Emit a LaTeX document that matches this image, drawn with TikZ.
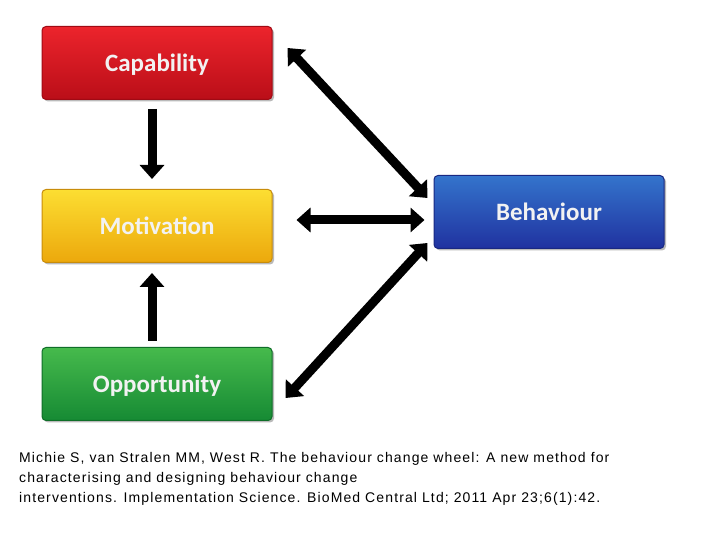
\documentclass[tikz,border=0pt]{standalone}
\usepackage{fontspec}
\setmainfont{Liberation Sans}
\newfontfamily\boxfont{Carlito}
\newfontfamily\citefont[LetterSpace=8]{Liberation Sans}
\usetikzlibrary{arrows.meta,shadows}
\definecolor{redT}{RGB}{236,36,44}
\definecolor{redB}{RGB}{186,14,24}
\definecolor{redE}{RGB}{160,10,20}
\definecolor{yelT}{RGB}{252,222,50}
\definecolor{yelB}{RGB}{236,168,12}
\definecolor{yelE}{RGB}{200,140,10}
\definecolor{grnT}{RGB}{70,186,76}
\definecolor{grnB}{RGB}{22,138,52}
\definecolor{grnE}{RGB}{15,110,40}
\definecolor{bluT}{RGB}{52,116,204}
\definecolor{bluB}{RGB}{32,50,160}
\definecolor{bluE}{RGB}{25,40,130}
\tikzset{
  cbox/.style={rounded corners=4pt, minimum width=230pt, minimum height=73pt,
    inner sep=0pt, text depth=0pt, text=white!95!black, font=\boxfont\bfseries\fontsize{25}{27}\selectfont,
    drop shadow={shadow xshift=2pt, shadow yshift=-2pt, opacity=0.45, fill=black!60}},
  bigarrow/.style={line width=9pt, draw=black,
    {Triangle[length=14pt,width=24pt]}-{Triangle[length=14pt,width=24pt]}},
  onearrow/.style={line width=9pt, draw=black,
    -{Triangle[length=14pt,width=24pt]}}
}
\begin{document}
\begin{tikzpicture}[x=1pt,y=1pt]
\useasboundingbox (0,0) rectangle (720,540);
\fill[white] (0,0) rectangle (720,540);
\node[cbox, top color=redT, bottom color=redB, draw=redE, line width=1pt] (cap) at (157,477) {Capability};
\node[cbox, top color=yelT, bottom color=yelB, draw=yelE, line width=1pt] (mot) at (157,314) {Motivation};
\node[cbox, top color=grnT, bottom color=grnB, draw=grnE, line width=1pt] (opp) at (157,156) {Opportunity};
\node[cbox, top color=bluT, bottom color=bluB, draw=bluE, line width=1pt] (beh) at (549,328) {Behaviour};
\draw[onearrow] ([xshift=-5pt,yshift=-9pt]cap.south) -- ([xshift=-5pt,yshift=10pt]mot.north);
\draw[onearrow] ([xshift=-5pt,yshift=-78pt]mot.south) -- ([xshift=-5pt,yshift=-10pt]mot.south);
\draw[bigarrow] ([xshift=15pt,yshift=15pt]cap.east) -- ([xshift=-6pt,yshift=14pt]beh.west);
\draw[bigarrow] ([xshift=24pt,yshift=6pt]mot.east) -- ([xshift=-9pt,yshift=-8pt]beh.west);
\draw[bigarrow] ([xshift=13pt,yshift=-14pt]opp.east) -- ([xshift=-6pt,yshift=-31pt]beh.west);
\node[anchor=north west, align=left, inner sep=0pt, font=\citefont\fontsize{14}{20}\selectfont] (cite) at (19,88)
 {Michie S, van Stralen MM, West R. The behaviour change wheel: A new method for\\
  characterising and designing behaviour change\\
  interventions. Implementation Science. BioMed Central Ltd; 2011 Apr 23;6(1):42.};
\end{tikzpicture}
\end{document}
